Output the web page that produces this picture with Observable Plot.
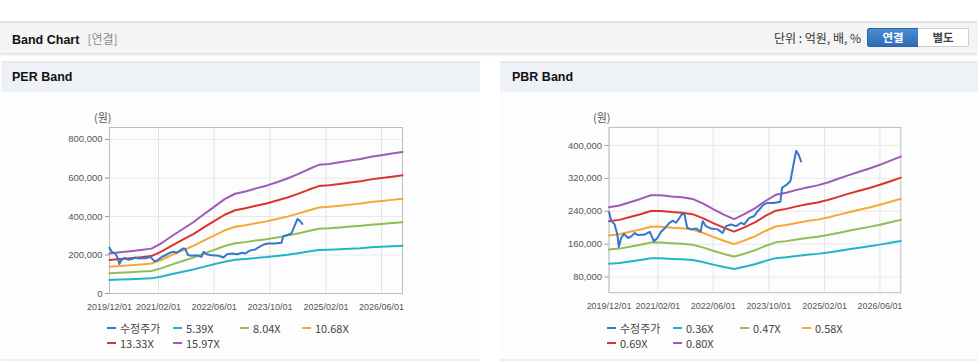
<!DOCTYPE html>
<html>
<head>
<meta charset="utf-8">
<script src="https://cdn.jsdelivr.net/npm/d3@7"></script>
<script src="https://cdn.jsdelivr.net/npm/@observablehq/plot@0.6"></script>
<style>
  html, body { margin: 0; padding: 0; background: #fff; }
  body { width: 978px; height: 362px; position: relative; overflow: hidden;
         font-family: "Liberation Sans", Arial, "Noto Sans CJK KR", sans-serif; }
  .abs { position: absolute; }
  #topbar { left: 0; top: 21px; width: 977px; height: 30px; background: #f4f4f4;
            border-top: 2px solid #e2e2e2; box-shadow: 0 2px 2px rgba(0,0,0,0.12); }
  #title { left: 12px; top: 30px; font-size: 12.5px; font-weight: bold; color: #111; }
  #title span { font-weight: normal; color: #8a8a8a; font-size: 12px; margin-left: 8px; font-family: "Noto Sans CJK KR", sans-serif; }
  #unit { right: 117px; top: 29px; font-size: 12px; color: #333; font-family: "Noto Sans CJK KR", sans-serif; }
  .btn { top: 28px; height: 17px; width: 50px; font-size: 11.5px; font-weight: bold; text-align: center;
         line-height: 17px; font-family: "Noto Sans CJK KR", sans-serif; }
  #b1 { left: 867px; background: linear-gradient(#4a8bd2, #2d6cb5); color: #fff; border: 1px solid #2d64a8; border-radius: 2px 0 0 2px; }
  #b2 { left: 918px; background: #fff; color: #444; border: 1px solid #cfcfcf; border-left: none; border-radius: 0 2px 2px 0; }
  .panel { top: 61px; height: 298px; background: #fdfdfd; border-bottom: 2px solid #eeeeee; }
  .phead { top: 61px; height: 29px; background: #eef1f6; border-top: 2px solid #e6e9ee; }
  .ptitle { top: 70px; font-size: 12.5px; font-weight: bold; color: #111; }
  .unitlbl { top: 109px; font-size: 11px; color: #555; font-family: "Noto Sans CJK KR", sans-serif; }
  .legend { top: 321px; display: grid; grid-template-columns: 66px 67px 62px 70px; row-gap: 0px;
            font-size: 11px; color: #444; font-family: "Noto Sans CJK KR", sans-serif; }
  .li { display: flex; align-items: center; height: 14.5px; white-space: nowrap; }
  .sw { display: inline-block; width: 9px; height: 2px; margin-right: 4px; }
</style>
</head>
<body>
<div id="topbar" class="abs"></div>
<div id="title" class="abs">Band Chart<span>[연결]</span></div>
<div id="unit" class="abs">단위 : 억원, 배, %</div>
<div id="b1" class="abs btn">연결</div>
<div id="b2" class="abs btn">별도</div>

<div class="abs panel" style="left:1px;width:479px;"></div>
<div class="abs phead" style="left:1px;width:479px;"></div>
<div class="abs ptitle" style="left:12px;">PER Band</div>
<div class="abs unitlbl" style="left:94px;">(원)</div>
<div id="perChart" class="abs" style="left:0;top:100px;"></div>
<div id="perLegend" class="abs legend" style="left:107px;"></div>

<div class="abs panel" style="left:500px;width:478px;"></div>
<div class="abs phead" style="left:500px;width:478px;"></div>
<div class="abs ptitle" style="left:512px;">PBR Band</div>
<div class="abs unitlbl" style="left:593px;">(원)</div>
<div id="pbrChart" class="abs" style="left:500px;top:100px;"></div>
<div id="pbrLegend" class="abs legend" style="left:607px;"></div>

<script>
// ---------- data ----------
const priceLabel = "수정주가";
const priceDates = ["2019-12-01","2019-12-22","2020-01-19","2020-02-12","2020-02-25","2020-03-16","2020-04-10","2020-05-16","2020-06-13","2020-07-13","2020-08-10","2020-09-10","2020-10-07","2020-11-22","2020-12-28","2021-01-28","2021-03-01","2021-04-07","2021-05-13","2021-06-13","2021-07-10","2021-08-10","2021-09-01","2021-09-22","2021-10-16","2021-11-19","2022-01-04","2022-02-10","2022-03-01","2022-03-28","2022-05-13","2022-07-10","2022-08-22","2022-09-22","2022-11-04","2022-12-19","2023-02-01","2023-02-28","2023-04-13","2023-05-25","2023-06-19","2023-08-16","2023-09-16","2023-11-13","2024-01-10","2024-01-25","2024-03-07","2024-04-07","2024-05-04","2024-05-28","2024-06-19","2024-07-10"];
const priceValues = [238000,216000,208000,183000,153000,175000,185000,175000,179000,187000,182000,183000,183000,190000,167000,175000,190000,200000,212000,217000,212000,224000,234000,232000,200000,196000,198000,190000,216000,204000,198000,196000,187000,204000,208000,204000,212000,208000,224000,228000,238000,256000,260000,260000,263000,297000,305000,313000,353000,387000,377000,361000];

const bandDates = ["2019-12-01","2020-03-01","2020-06-01","2020-09-01","2020-12-01","2021-03-01","2021-06-01","2021-09-01","2021-12-01","2022-03-01","2022-06-01","2022-09-01","2022-12-01","2023-03-01","2023-06-01","2023-09-01","2023-12-01","2024-03-01","2024-06-01","2024-09-01","2024-12-01","2025-03-01","2025-06-01","2025-09-01","2025-12-01","2026-03-01","2026-06-01","2026-09-01","2026-12-01"];

const perLabels = ["5.39X","8.04X","10.68X","13.33X","15.97X"];
const perBand1 = [70200,72200,74300,76300,78600,88400,101300,113100,124900,138400,151900,165400,174800,178900,184300,189000,195100,201500,209300,217700,225500,227100,229800,232900,235600,239600,242300,245400,248100];
const perBand2 = [104700,107700,110700,113800,117300,131900,151000,168600,186300,206400,226500,246700,260800,266800,274900,281900,291000,300500,312100,324700,336300,338800,342800,347300,351400,357400,361400,366000,370000];
const perBand3 = [139100,143100,147100,151100,155800,175200,200600,224000,247500,274200,301000,327700,346400,354500,365200,374500,386600,399300,414700,431400,446800,450100,455500,461500,466800,474800,480200,486200,491600];
const perBand4 = [173600,178600,183600,188600,194500,218700,250400,279600,308800,342200,375600,409000,432400,442400,455700,467400,482500,498300,517500,538400,557600,561800,568400,576000,582600,592600,599300,606800,613500];
const perBand5 = [208000,214000,220000,226000,233000,262000,300000,335000,370000,410000,450000,490000,518000,530000,546000,560000,578000,597000,620000,645000,668000,673000,681000,690000,698000,710000,718000,727000,735000];

const pbrLabels = ["0.36X","0.47X","0.58X","0.69X","0.80X"];
const pbrBand1 = [112500,114300,117900,121500,125600,125600,124200,123300,121500,116600,110300,104400,99500,104900,111200,119300,126000,128300,131400,134100,136400,139500,143600,147600,151200,154800,158900,163400,167900];
const pbrBand2 = [146900,149200,153900,158600,163900,163900,162200,161000,158600,152200,143900,136300,129800,136900,145100,155700,164500,167400,171600,175100,178000,182100,187400,192700,197400,202100,207400,213300,219100];
const pbrBand3 = [181300,184200,190000,195800,202300,202300,200100,198700,195800,187800,177600,168200,160200,168900,179100,192100,203000,206600,211700,216100,219700,224800,231300,237800,243600,249400,255900,263200,270400];
const pbrBand4 = [215600,219100,226000,232900,240600,240600,238100,236300,232900,223400,211300,200100,190600,201000,213000,228600,241500,245800,251900,257000,261300,267400,275100,282900,289800,296700,304500,313100,321700];
const pbrBand5 = [250000,254000,262000,270000,279000,279000,276000,274000,270000,259000,245000,232000,221000,233000,247000,265000,280000,285000,292000,298000,303000,310000,319000,328000,336000,344000,353000,363000,373000];

const xTicks = ["2019-12-01","2021-02-01","2022-06-01","2023-10-01","2025-02-01","2026-06-01"];
const xDomain = ["2019-12-01","2026-12-01"];
const perYTicks = [0,200000,400000,600000,800000];
const perYDomain = [0,862000];
const pbrYTicks = [80000,160000,240000,320000,400000];
const pbrYDomain = [42000,444000];

const seriesColors = ["#3577c8","#22b5c6","#8fbe55","#f6a834","#d9352e","#a05ab5"];

// ---------- drawing ----------
const parse = d3.utcParse("%Y-%m-%d");

function build(el, legendEl, labels, bands, yTicks, yDomain) {
  const names = [priceLabel, ...labels];
  const rows = [];
  bands.forEach((arr, i) => arr.forEach((v, j) => rows.push({date: parse(bandDates[j]), value: v, series: labels[i]})));
  const price = priceDates.map((d, j) => ({date: parse(d), value: priceValues[j], series: priceLabel}));
  const chart = Plot.plot({
    width: 480, height: 217,
    marginTop: 27, marginLeft: 109, marginRight: 78, marginBottom: 24,
    style: {fontFamily: '"Liberation Sans", Arial, sans-serif', fontSize: "9.5px", color: "#555", background: "transparent", overflow: "visible"},
    x: {type: "utc", domain: xDomain.map(parse), ticks: xTicks.map(parse), tickFormat: d3.utcFormat("%Y/%m/%d"), tickSize: 0, tickPadding: 10, label: null},
    y: {domain: yDomain, ticks: yTicks, tickFormat: d3.format(","), tickSize: 4, tickPadding: 3, label: null},
    color: {domain: names, range: seriesColors},
    marks: [
      Plot.gridY(yTicks, {stroke: "#e9e9e9", strokeOpacity: 1}),
      Plot.gridX(xTicks.map(parse), {stroke: "#e4e4e4", strokeOpacity: 1}),
      Plot.frame({stroke: "#bdbdbd"}),
      Plot.axisY({ticks: yTicks, tickFormat: d3.format(","), tickSize: 4, tickPadding: 3, stroke: "#999", fontSize: 9.5}),
      Plot.axisX({ticks: xTicks.map(parse), tickFormat: d3.utcFormat("%Y/%m/%d"), tickSize: 0, tickPadding: 10, fontSize: 9}),
      Plot.line(rows, {x: "date", y: "value", z: "series", stroke: "series", strokeWidth: 2}),
      Plot.line(price, {x: "date", y: "value", stroke: "series", strokeWidth: 2})
    ]
  });
  el.appendChild(chart);
  const order = [priceLabel, ...labels];
  order.forEach((n, i) => {
    const d = document.createElement("div");
    d.className = "li";
    d.innerHTML = `<span class="sw" style="background:${seriesColors[i]}"></span>${n}`;
    legendEl.appendChild(d);
  });
}

build(document.getElementById("perChart"), document.getElementById("perLegend"), perLabels,
      [perBand1, perBand2, perBand3, perBand4, perBand5], perYTicks, perYDomain);
build(document.getElementById("pbrChart"), document.getElementById("pbrLegend"), pbrLabels,
      [pbrBand1, pbrBand2, pbrBand3, pbrBand4, pbrBand5], pbrYTicks, pbrYDomain);
</script>
</body>
</html>
